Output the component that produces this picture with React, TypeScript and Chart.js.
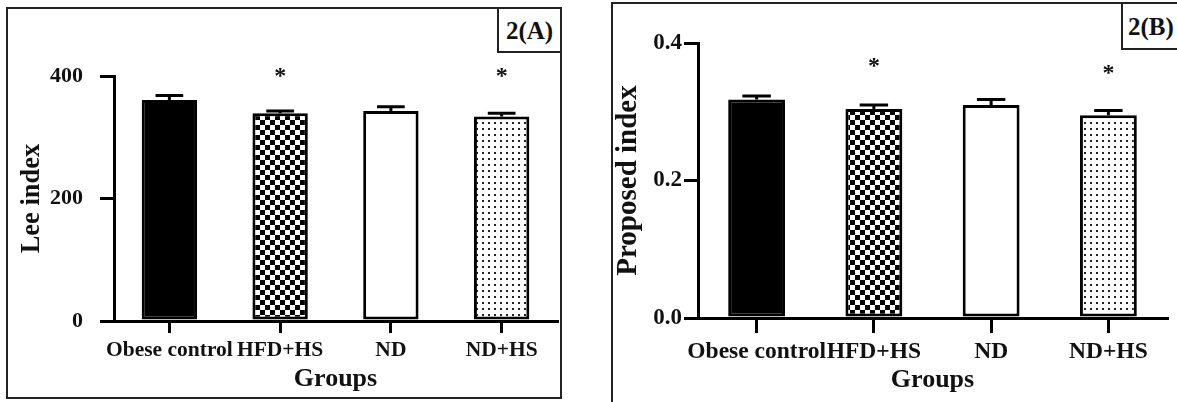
import React, { useEffect, useRef } from 'react';
import { Chart, registerables } from 'chart.js';

Chart.register(...registerables);

// ---- data ----
const categories = ['Obese control', 'HFD+HS', 'ND', 'ND+HS'];

const leeIndex = [361, 339, 343, 334];
const leeError = [7, 4, 7, 5];
const leeStars: (number | null)[] = [null, 405, null, 405];
const leeTicks = [0, 200, 400];

const proposedIndex = [0.318, 0.304, 0.31, 0.295];
const proposedError = [0.005, 0.006, 0.008, 0.007];
const proposedStars: (number | null)[] = [null, 0.371, null, 0.361];
const proposedTicks = [0, 0.2, 0.4];

const FONT = "'Liberation Serif', 'Times New Roman', serif";

function makeChecker(): CanvasPattern | string {
  const c = document.createElement('canvas');
  c.width = 10;
  c.height = 10;
  const g = c.getContext('2d');
  if (!g) return '#888';
  g.fillStyle = '#fff';
  g.fillRect(0, 0, 10, 10);
  g.fillStyle = '#000';
  g.fillRect(0, 0, 5, 5);
  g.fillRect(5, 5, 5, 5);
  return g.createPattern(c, 'repeat') || '#888';
}

function makeDots(): CanvasPattern | string {
  const c = document.createElement('canvas');
  c.width = 6;
  c.height = 6;
  const g = c.getContext('2d');
  if (!g) return '#eee';
  g.fillStyle = '#fff';
  g.fillRect(0, 0, 6, 6);
  g.fillStyle = '#222';
  g.fillRect(2, 2, 2, 2);
  return g.createPattern(c, 'repeat') || '#eee';
}

function annotationPlugin(errors: number[], stars: (number | null)[], starOffset: number) {
  return {
    id: 'errAndStars',
    afterDatasetsDraw(chart: any) {
      const ctx = chart.ctx;
      const meta = chart.getDatasetMeta(0);
      const ys = chart.scales.y;
      const values = chart.data.datasets[0].data as number[];
      ctx.save();
      ctx.strokeStyle = '#000';
      ctx.lineWidth = 3;
      meta.data.forEach((el: any, i: number) => {
        const x = el.x;
        const half = el.width / 4;
        const yTop = ys.getPixelForValue(values[i]);
        const yErr = ys.getPixelForValue(values[i] + errors[i]);
        ctx.beginPath();
        ctx.moveTo(x, yTop);
        ctx.lineTo(x, yErr);
        ctx.moveTo(x - half, yErr);
        ctx.lineTo(x + half, yErr);
        ctx.stroke();
        const s = stars[i];
        if (s != null) {
          ctx.fillStyle = '#111';
          ctx.font = `bold 24px ${FONT}`;
          ctx.textAlign = 'center';
          ctx.textBaseline = 'middle';
          ctx.fillText('*', x, ys.getPixelForValue(s) + starOffset);
        }
      });
      ctx.restore();
    },
  };
}

interface P {
  values: number[];
  errors: number[];
  stars: (number | null)[];
  ticks: number[];
  max: number;
  fmt: (v: number) => string;
  yTitle: string;
  top: number;
  right: number;
  xHeight: number;
  yWidth: number;
  barPct: number;
  xTickLen: number;
  yTickLen: number;
  xTickPad: number;
  yTickPad: number;
  xTickSize: number;
  yTickSize: number;
  xTitleSize: number;
  yTitleSize: number;
  xTitlePad: number;
  yTitlePad: number;
  starOffset: number;
}

function makeConfig(p: P): any {
  const gridBase = {
    display: true,
    drawOnChartArea: false,
    drawTicks: true,
    tickWidth: 3,
    tickColor: '#000',
    color: '#000',
    lineWidth: 3,
  };
  return {
    type: 'bar',
    data: {
      labels: categories,
      datasets: [
        {
          data: p.values,
          backgroundColor: ['#000', makeChecker(), '#fff', makeDots()],
          borderColor: '#000',
          borderWidth: 3,
          borderSkipped: false,
          barPercentage: p.barPct,
          categoryPercentage: 1,
        },
      ],
    },
    options: {
      responsive: false,
      animation: false,
      devicePixelRatio: 1,
      layout: { padding: { left: 0, top: p.top, right: p.right, bottom: 0 } },
      plugins: { legend: { display: false }, tooltip: { enabled: false } },
      scales: {
        x: {
          type: 'category',
          offset: true,
          grid: { ...gridBase, offset: false, tickLength: p.xTickLen },
          border: { display: true, width: 3, color: '#000' },
          ticks: {
            color: '#111',
            font: { family: FONT, size: p.xTickSize, weight: 'bold' },
            padding: p.xTickPad,
            maxRotation: 0,
            autoSkip: false,
          },
          title: {
            display: true,
            text: 'Groups',
            color: '#111',
            font: { family: FONT, size: p.xTitleSize, weight: 'bold' },
            padding: { top: 0, bottom: p.xTitlePad },
          },
          afterFit: (s: any) => {
            s.height = p.xHeight;
          },
        },
        y: {
          type: 'linear',
          min: 0,
          max: p.max,
          grid: { ...gridBase, tickLength: p.yTickLen },
          border: { display: true, width: 3, color: '#000' },
          afterBuildTicks: (s: any) => {
            s.ticks = p.ticks.map((v) => ({ value: v }));
          },
          ticks: {
            color: '#111',
            font: { family: FONT, size: p.yTickSize, weight: 'bold' },
            padding: p.yTickPad,
            callback: (v: any) => p.fmt(Number(v)),
          },
          title: {
            display: true,
            text: p.yTitle,
            color: '#111',
            font: { family: FONT, size: p.yTitleSize, weight: 'bold' },
            padding: { top: p.yTitlePad, bottom: 0 },
          },
          afterFit: (s: any) => {
            s.width = p.yWidth;
          },
        },
      },
    },
    plugins: [annotationPlugin(p.errors, p.stars, p.starOffset)],
  };
}

const boxText: React.CSSProperties = {
  fontFamily: FONT,
  fontWeight: 'bold',
  fontSize: 25,
  color: '#111',
  lineHeight: 1,
};

export default function App() {
  const refA = useRef<HTMLCanvasElement>(null);
  const refB = useRef<HTMLCanvasElement>(null);

  useEffect(() => {
    if (!refA.current || !refB.current) return;
    const a = new Chart(
      refA.current,
      makeConfig({
        values: leeIndex,
        errors: leeError,
        stars: leeStars,
        ticks: leeTicks,
        max: 400,
        fmt: (v) => String(v),
        yTitle: 'Lee index',
        top: 76,
        right: 23,
        xHeight: 81,
        yWidth: 114,
        barPct: 0.5,
        xTickLen: 12,
        yTickLen: 14,
        xTickPad: 5,
        yTickPad: 17,
        xTickSize: 21.5,
        yTickSize: 22,
        xTitleSize: 26,
        yTitleSize: 26.5,
        xTitlePad: 7,
        yTitlePad: 16,
        starOffset: 4,
      })
    );
    const b = new Chart(
      refB.current,
      makeConfig({
        values: proposedIndex,
        errors: proposedError,
        stars: proposedStars,
        ticks: proposedTicks,
        max: 0.4,
        fmt: (v) => v.toFixed(1),
        yTitle: 'Proposed index',
        top: 43,
        right: 10,
        xHeight: 84,
        yWidth: 108,
        barPct: 0.485,
        xTickLen: 15,
        yTickLen: 14,
        xTickPad: 5,
        yTickPad: 2,
        xTickSize: 23.5,
        yTickSize: 23,
        xTitleSize: 26,
        yTitleSize: 29,
        xTitlePad: 6,
        yTitlePad: 21,
        starOffset: 4,
      })
    );
    return () => {
      a.destroy();
      b.destroy();
    };
  }, []);

  return (
    <div
      style={{
        position: 'fixed',
        left: 0,
        top: 0,
        width: 1177,
        height: 402,
        overflow: 'hidden',
        background: '#fff',
      }}
    >
      <canvas ref={refA} width={580} height={402} style={{ position: 'absolute', left: 0, top: 0 }} />
      <canvas ref={refB} width={587} height={402} style={{ position: 'absolute', left: 590, top: 0 }} />
      {/* panel A frame */}
      <div
        style={{
          position: 'absolute',
          left: 6,
          top: 7,
          width: 556,
          height: 392,
          border: '2px solid #222',
          boxSizing: 'border-box',
          pointerEvents: 'none',
        }}
      />
      <div
        style={{
          position: 'absolute',
          left: 497,
          top: 7,
          width: 65,
          height: 46,
          border: '2px solid #222',
          boxSizing: 'border-box',
          display: 'flex',
          alignItems: 'center',
          justifyContent: 'center',
          background: '#fff',
          ...boxText,
        }}
      >
        2(A)
      </div>
      {/* panel B frame */}
      <div
        style={{
          position: 'absolute',
          left: 611,
          top: 2,
          width: 700,
          height: 500,
          border: '2px solid #222',
          boxSizing: 'border-box',
          pointerEvents: 'none',
        }}
      />
      <div
        style={{
          position: 'absolute',
          left: 1121,
          top: 2,
          width: 100,
          height: 48,
          border: '2px solid #222',
          boxSizing: 'border-box',
          display: 'flex',
          alignItems: 'center',
          paddingLeft: 5,
          background: '#fff',
          ...boxText,
        }}
      >
        2(B)
      </div>
    </div>
  );
}
